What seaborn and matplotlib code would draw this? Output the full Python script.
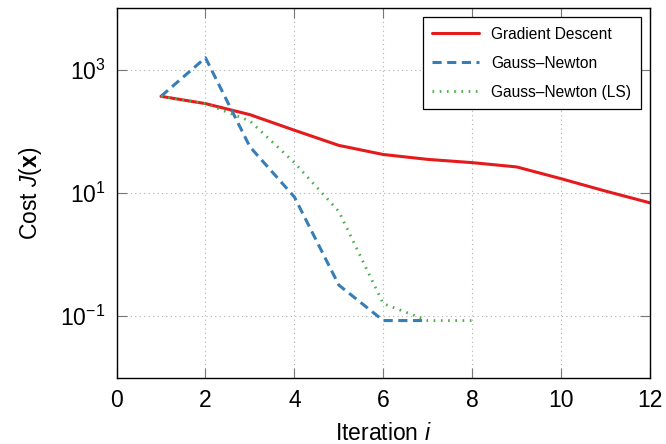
import numpy as np
import pandas as pd
import matplotlib
matplotlib.use("Agg")
import matplotlib.pyplot as plt
import seaborn as sns
from matplotlib.ticker import FixedLocator, NullLocator

# ---- data ----
gd_iter = [1, 2, 3, 4, 5, 6, 7, 8, 9, 10, 11, 12]
gd_cost = [369, 281, 186, 104, 59, 42, 35, 31, 26.4, 17, 10.7, 6.9]
gn_iter = [1, 2, 3, 4, 5, 6, 7]
gn_cost = [369, 1560, 56, 8.6, 0.32, 0.085, 0.085]
gnls_iter = [1, 2, 3, 4, 5, 6, 7, 8]
gnls_cost = [369, 281, 147, 31, 5.0, 0.16, 0.085, 0.085]
series_names = ["Gradient Descent", "Gauss\u2013Newton", "Gauss\u2013Newton (LS)"]
x_ticks = [0, 2, 4, 6, 8, 10, 12]
y_ticks = [1e-1, 1e1, 1e3]

sns.set_style("ticks")
plt.rcParams['font.family'] = ['Liberation Sans', 'DejaVu Sans']
plt.rcParams['mathtext.fontset'] = 'custom'
plt.rcParams['mathtext.rm'] = 'Liberation Sans'
plt.rcParams['mathtext.it'] = 'Liberation Sans:italic'
plt.rcParams['mathtext.bf'] = 'Liberation Sans:bold'
plt.rcParams['text.color'] = 'black'
plt.rcParams['axes.labelcolor'] = 'black'

df = pd.concat([
    pd.DataFrame({"i": gd_iter, "J": gd_cost, "method": series_names[0]}),
    pd.DataFrame({"i": gn_iter, "J": gn_cost, "method": series_names[1]}),
    pd.DataFrame({"i": gnls_iter, "J": gnls_cost, "method": series_names[2]}),
])

fig = plt.figure(figsize=(6.66, 4.44), dpi=100)
ax = fig.add_axes([0.175, 0.149, 0.801, 0.833])

colors = {series_names[0]: "#E41A1C", series_names[1]: "#377EB8", series_names[2]: "#4DAF4A"}
styles = {series_names[0]: dict(lw=2.2),
          series_names[1]: dict(lw=2.2, dashes=(3, 1.8)),
          series_names[2]: dict(lw=2.0, dashes=(0.6, 2.0))}

for name in series_names:
    sub = df[df["method"] == name]
    sns.lineplot(data=sub, x="i", y="J", ax=ax, color=colors[name], label=name,
                 **styles[name])

ax.set_yscale("log")
ax.set_xlim(0, 12)
ax.set_ylim(1e-2, 1e4)
ax.xaxis.set_major_locator(FixedLocator(x_ticks))
ax.yaxis.set_major_locator(FixedLocator(y_ticks))
ax.yaxis.set_minor_locator(NullLocator())
ax.set_yticklabels([r"$10^{-1}$", r"$10^{1}$", r"$10^{3}$"])

ax.grid(True, which="major", linestyle=(0, (1, 3)), color="#b0b0b0", linewidth=0.8)
ax.tick_params(which="major", direction="in", length=7, width=0.8, color="#777777",
               labelsize=16.5, top=True, right=True, pad=8, labelcolor="black")
for s in ax.spines.values():
    s.set_color("black")
    s.set_linewidth(1.0)

ax.set_xlabel(r"Iteration $i$", fontsize=16.5, labelpad=7, color="black")
ax.set_ylabel(r"Cost $J(\mathbf{x})$", fontsize=16.5, labelpad=12, color="black")

leg = ax.legend(loc="upper right", fontsize=11.2, frameon=True, fancybox=False,
                edgecolor="black", framealpha=1, handlelength=3.0,
                borderpad=0.6, labelspacing=0.9, borderaxespad=0.6)
leg.get_frame().set_linewidth(0.9)
for t in leg.get_texts():
    t.set_color("black")

fig.savefig("out.png", dpi=100)
